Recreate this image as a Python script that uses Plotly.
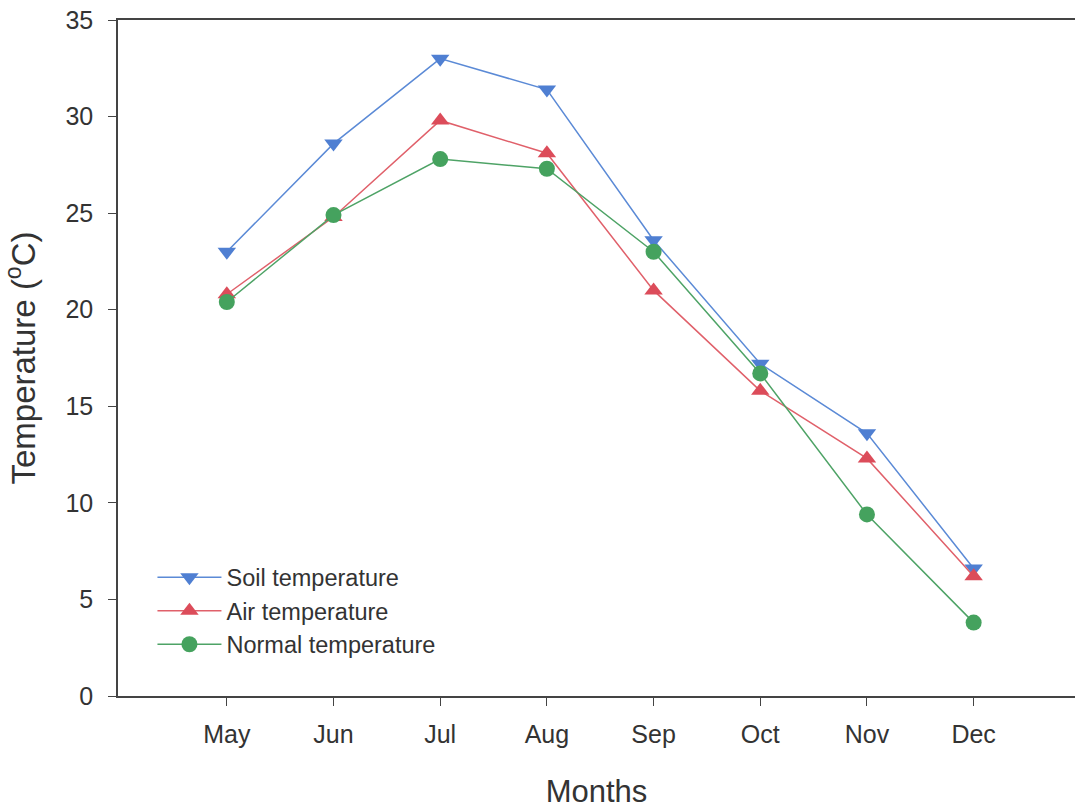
import plotly.graph_objects as go

months = ["May", "Jun", "Jul", "Aug", "Sep", "Oct", "Nov", "Dec"]
soil = [23.0, 28.6, 33.0, 31.4, 23.6, 17.2, 13.6, 6.6]
air = [20.8, 24.8, 29.8, 28.1, 21.0, 15.8, 12.3, 6.2]
normal = [20.4, 24.9, 27.8, 27.3, 23.0, 16.7, 9.4, 3.8]

xpos = list(range(len(months)))

fig = go.Figure()
fig.add_trace(go.Scatter(x=xpos, y=soil, name="Soil temperature", mode="lines+markers",
                         line=dict(color="#5b8ad6", width=1.5),
                         marker=dict(symbol="triangle-down", size=16, color="#4f7fd2")))
fig.add_trace(go.Scatter(x=xpos, y=air, name="Air temperature", mode="lines+markers",
                         line=dict(color="#e0606a", width=1.5),
                         marker=dict(symbol="triangle-up", size=16, color="#dc4c5a")))
fig.add_trace(go.Scatter(x=xpos, y=normal, name="Normal temperature", mode="lines+markers",
                         line=dict(color="#4ea366", width=1.5),
                         marker=dict(symbol="circle", size=16, color="#45a25e")))

fig.update_layout(
    width=1077, height=809,
    margin=dict(l=118, r=2, t=20, b=113),
    paper_bgcolor="white", plot_bgcolor="white",
    font=dict(family="Liberation Sans, Arial, sans-serif", color="#333333"),
    showlegend=True,
    legend=dict(x=0.036, y=0.208, xanchor="left", yanchor="top",
                font=dict(size=23.5, color="#333333"), bgcolor="rgba(0,0,0,0)",
                itemwidth=64, tracegroupgap=0),
    xaxis=dict(
        range=[-1.02, 7.95], tickmode="array", tickvals=xpos, ticktext=months,
        showgrid=False, zeroline=False, showline=True, linecolor="#444444", linewidth=1.5,
        mirror=True, ticks="outside", ticklen=8, tickcolor="#444444",
        tickfont=dict(size=25, color="#333333"), ticklabelstandoff=7,
        title=dict(text="Months", font=dict(size=31, color="#333333"), standoff=34),
    ),
    yaxis=dict(
        range=[0, 35], tickvals=[0, 5, 10, 15, 20, 25, 30, 35],
        showgrid=False, zeroline=False, showline=True, linecolor="#444444", linewidth=1.5,
        ticks="outside", ticklen=8, tickcolor="#444444",
        tickfont=dict(size=25, color="#333333"), ticklabelstandoff=10,
        title=dict(text="Temperature (<sup>o</sup>C)", font=dict(size=33, color="#333333"), standoff=26),
    ),
)

fig.write_html("out.html")
